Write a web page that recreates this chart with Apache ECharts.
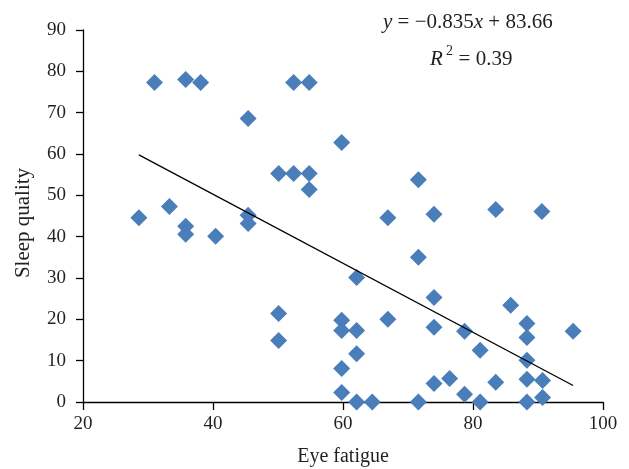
<!DOCTYPE html>
<html>
<head>
<meta charset="utf-8">
<script src="https://cdn.jsdelivr.net/npm/echarts@6/dist/echarts.min.js"></script>
<style>
  html, body { margin: 0; padding: 0; background: #fff; }
  #chart { width: 629px; height: 469px; }
</style>
</head>
<body>
<div id="chart"></div>
<script>
// eye fatigue (x) / sleep quality (y)
const eyeFatigue = [
  28.6, 31.0, 33.3, 35.8, 35.8, 35.8, 38.1, 40.4, 45.4, 45.4, 45.4,
  50.1, 50.1, 50.1, 52.4, 52.4, 54.8, 54.8, 54.8,
  59.8, 59.8, 59.8, 59.8, 59.8, 62.1, 62.1, 62.1, 62.1, 64.5,
  66.9, 66.9, 71.6, 71.6, 71.6, 74.0, 74.0, 74.0, 74.0, 76.4,
  78.7, 78.7, 81.1, 81.1, 83.5, 83.5, 85.8,
  88.3, 88.3, 88.3, 88.3, 88.3, 90.6, 90.7, 90.7, 95.4
];
const sleepQuality = [
  44.6, 77.3, 47.3, 78.0, 42.5, 40.6, 77.3, 40.1, 68.6, 45.2, 43.2,
  55.3, 21.4, 14.9, 77.3, 55.3, 77.3, 55.3, 51.4,
  62.8, 19.8, 17.3, 8.1, 2.3, 30.1, 17.3, 11.7, 0, 0,
  44.6, 20.0, 53.8, 35.0, 0, 45.4, 25.3, 18.1, 4.5, 5.7,
  17.1, 1.9, 12.5, 0, 46.6, 4.8, 23.4,
  19.0, 15.6, 10.1, 5.5, 0, 46.1, 5.2, 1.1, 17.1
];
const slope = -0.835;
const intercept = 83.66;
const trendRange = [28.6, 95.4];
const xTicks = [20, 40, 60, 80, 100];
const yTicks = [0, 10, 20, 30, 40, 50, 60, 70, 80, 90];

const points = eyeFatigue.map((x, i) => [x, sleepQuality[i]]);
const trend = trendRange.map(x => [x, slope * x + intercept]);

const font = '"Liberation Serif", "DejaVu Serif", serif';
const ink = '#231f20';
const chart = echarts.init(document.getElementById('chart'));

chart.setOption({
  animation: false,
  textStyle: { fontFamily: font },
  grid: { left: 83, right: 26, top: 30, bottom: 67, outerBoundsMode: 'none' },
  xAxis: {
    type: 'value',
    min: xTicks[0],
    max: xTicks[xTicks.length - 1],
    interval: 20,
    name: 'Eye fatigue',
    nameLocation: 'middle',
    nameGap: 45,
    nameTextStyle: { fontSize: 20, color: ink, fontFamily: font },
    axisLine: { lineStyle: { color: '#000', width: 1.3 } },
    axisTick: { length: 8, lineStyle: { color: '#000', width: 1.3 } },
    axisLabel: { fontSize: 19, color: ink, margin: 13, fontFamily: font },
    splitLine: { show: false }
  },
  yAxis: {
    type: 'value',
    min: yTicks[0],
    max: yTicks[yTicks.length - 1],
    interval: 10,
    name: 'Sleep quality',
    nameLocation: 'middle',
    nameGap: 49,
    nameTextStyle: { fontSize: 21, color: ink, fontFamily: font, padding: [0, 14, 0, 0] },
    axisLine: { show: true, lineStyle: { color: '#000', width: 1.3 } },
    axisTick: { show: true, length: 7, lineStyle: { color: '#000', width: 1.3 } },
    axisLabel: { fontSize: 19, color: ink, margin: 17, fontFamily: font },
    splitLine: { show: false }
  },
  series: [
    {
      type: 'scatter',
      data: points,
      symbol: 'diamond',
      symbolSize: [17, 17],
      itemStyle: { color: '#4a7ebb', opacity: 1 }
    },
    {
      type: 'line',
      data: trend,
      symbol: 'none',
      lineStyle: { color: '#000', width: 1.3 },
      z: 3
    }
  ],
  graphic: [
    {
      type: 'text',
      left: 383,
      top: 12,
      style: {
        text: '{i|y} = −0.835{i|x} + 83.66',
        font: '21px ' + font,
        fill: ink,
        rich: { i: { fontStyle: 'italic', fontSize: 21, fontFamily: font } }
      }
    },
    {
      type: 'text',
      left: 430,
      top: 49,
      style: {
        text: '{i|R}   = 0.39',
        font: '21px ' + font,
        fill: ink,
        rich: { i: { fontStyle: 'italic', fontSize: 21, fontFamily: font } }
      }
    },
    {
      type: 'text',
      left: 446,
      top: 44,
      style: { text: '2', font: '14px ' + font, fill: ink }
    }
  ]
});
</script>
</body>
</html>
